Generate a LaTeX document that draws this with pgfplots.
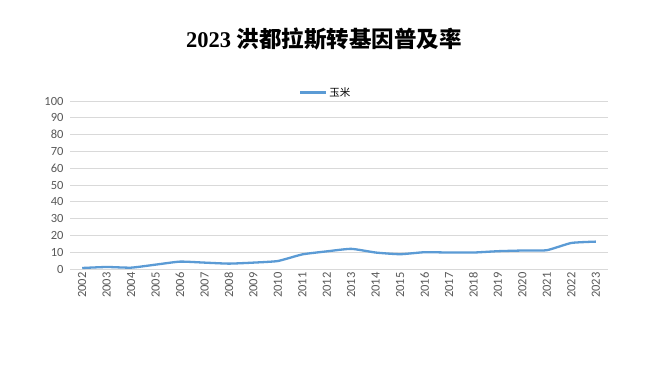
\documentclass[border=0pt]{standalone}
\usepackage{fontspec}
\setmainfont{Liberation Serif}
\newfontfamily\cjk{Noto Sans CJK SC}
\newfontfamily\tickfont{Carlito}
\usepackage{pgfplots}
\pgfplotsset{compat=1.18}
\definecolor{lineblue}{RGB}{91,155,213}
\definecolor{gridgray}{RGB}{217,217,217}
\definecolor{ticktext}{RGB}{89,89,89}
\begin{document}
\begin{tikzpicture}[x=1pt,y=1pt]
\path[use as bounding box,fill=white] (0,0) rectangle (650,365);
\node[font=\fontsize{22.5}{25}\selectfont\bfseries] at (324,326) {2023 {\cjk\bfseries 洪都拉斯转基因普及率}};
\begin{axis}[
  at={(70pt,96pt)}, anchor=south west,
  scale only axis, width=538pt, height=168pt,
  xmin=-0.5, xmax=21.5, ymin=0, ymax=100,
  xtick={0,...,21},
  xticklabels={2002,2003,2004,2005,2006,2007,2008,2009,2010,2011,2012,2013,2014,2015,2016,2017,2018,2019,2020,2021,2022,2023},
  xticklabel style={rotate=90, anchor=east, font=\tickfont\fontsize{12.5}{13}\selectfont, text=ticktext, yshift=0pt},
  ytick={0,10,...,100},
  yticklabel style={font=\tickfont\fontsize{12.5}{13}\selectfont, text=ticktext, xshift=-3pt},
  /pgf/number format/assume math mode=true,
  major tick length=0pt,
  ymajorgrids, grid style={gridgray, line width=0.8pt},
  axis x line*=bottom, axis y line*=left,
  x axis line style={gridgray, line width=0.8pt},
  y axis line style={draw=none},
  legend style={at={(0.475,1.05)}, anchor=center, draw=none, fill=none, font=\cjk\fontsize{10.5}{11}\selectfont, legend cell align=left},
  legend image code/.code={\draw[#1, line width=2.5pt] (0pt,0pt) -- (26pt,0pt);},
  clip=false,
]
\addplot[lineblue, line width=2.3pt, smooth, tension=0.3] coordinates {
(0,0.6) (1,1.2) (2,0.8) (3,2.6) (4,4.4) (5,3.8) (6,3.2) (7,3.8) (8,4.75) (9,8.7)
(10,10.5) (11,12.0) (12,9.8) (13,8.8) (14,10.0) (15,9.8) (16,9.8) (17,10.6) (18,11.0) (19,11.2) (20,15.5) (21,16.3)
};
\addlegendentry{玉米}
\end{axis}
\end{tikzpicture}
\end{document}
